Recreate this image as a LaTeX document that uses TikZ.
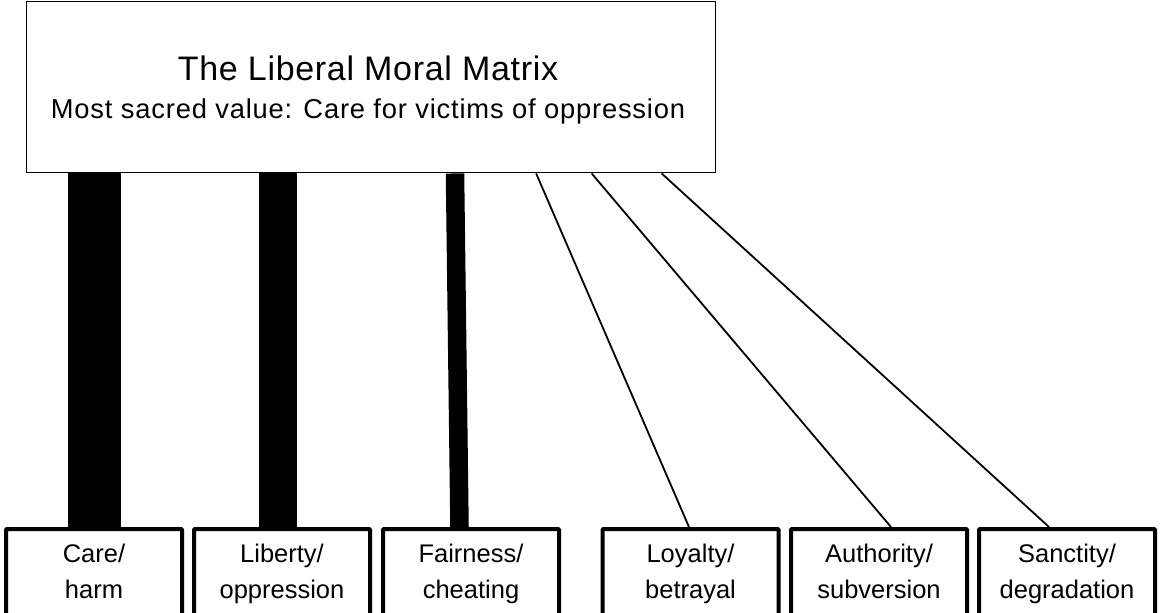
\documentclass[tikz,border=0pt]{standalone}
\usepackage{fontspec}
\setmainfont{Liberation Sans}
\newfontfamily\titlefont[LetterSpace=2]{Liberation Sans}
\newfontfamily\subfont[LetterSpace=3]{Liberation Sans}
\usetikzlibrary{calc}
\tikzset{
  found/.style={draw, line width=4pt, rounded corners=1pt, minimum width=176pt,
    minimum height=88.5pt, inner sep=0pt, align=center, font=\fontsize{25.5}{36.5}\selectfont},
  link/.style={line width=1.8pt},
}

\begin{document}
\begin{tikzpicture}[x=1pt,y=-1pt]
\useasboundingbox (0,0) rectangle (1160,613);
% top box
\node[draw, line width=1.3pt, minimum width=689pt, minimum height=171.6pt, inner sep=0pt] (moral) at (371.3,87) {};
\node[anchor=base, font=\titlefont\fontsize{34}{40}\selectfont] (title) at (368,80) {The Liberal Moral Matrix};
\node[anchor=base, font=\subfont\fontsize{27.3}{32}\selectfont] (sacred) at (368,118.3) {Most sacred value: Care for victims of oppression};
% foundations
\node[found] (care) at (94,573.25) {\strut Care/\\\strut harm};
\node[found] (lib) at (282,573.25) {\strut Liberty/\\\strut oppression};
\node[found] (fair) at (471,573.25) {\strut Fairness/\\\strut cheating};
\node[found] (loy) at (690.5,573.25) {\strut Loyalty/\\\strut betrayal};
\node[found] (auth) at (879,573.25) {\strut Authority/\\\strut subversion};
\node[found] (sanc) at (1067,573.25) {\strut Sanctity/\\\strut degradation};
% thick bars
\draw[line width=53pt] (care.north |- moral.south) -- (care.north);
\draw[line width=38pt] ([xshift=-4pt]lib.north |- moral.south) -- ([xshift=-4pt]lib.north);
\draw[line width=18.5pt] ([xshift=-16pt]fair.north |- moral.south) -- ([xshift=-11.5pt]fair.north);
% thin lines
\draw[link] ($(moral.south west)+(510,0)$) -- ([xshift=-1.5pt]loy.north);
\draw[link] ($(moral.south west)+(565.5,0)$) -- ([xshift=12pt]auth.north);
\draw[link] ($(moral.south west)+(635.5,0)$) -- ([xshift=-18pt]sanc.north);
\end{tikzpicture}
\end{document}
